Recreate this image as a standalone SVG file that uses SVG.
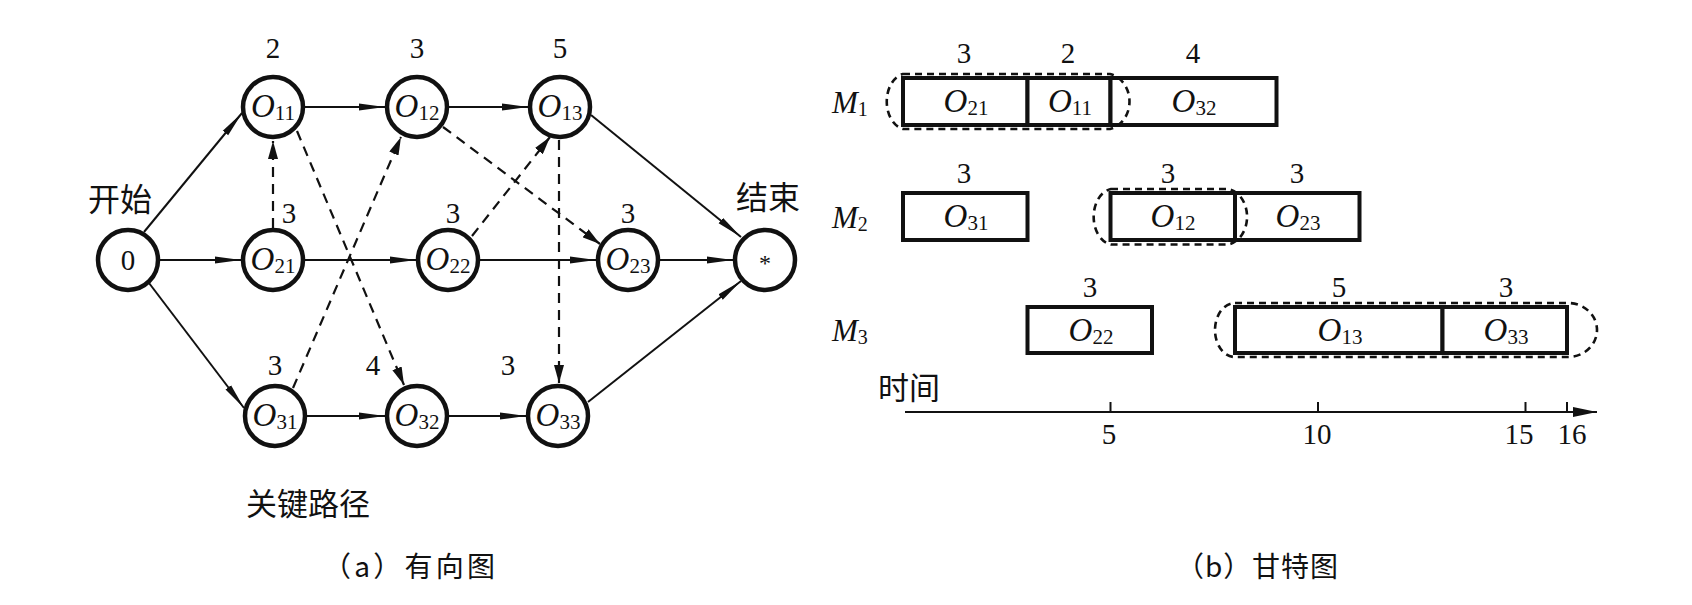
<svg xmlns="http://www.w3.org/2000/svg" width="1692" height="605" viewBox="0 0 1692 605">
<style>
.bg{fill:#fff}
.node circle{fill:#fff;stroke:#111;stroke-width:4.5}
.t{font-family:"Liberation Serif","Times New Roman",serif;fill:#111}
.it{font-style:italic;font-size:33px}
.sub{font-size:21px}
.num{font-family:"Liberation Serif","Times New Roman",serif;font-size:29px;fill:#111;text-anchor:middle}
.cjk{font-family:"Noto Sans CJK SC","Noto Sans",sans-serif;fill:#111}
.solid{stroke:#111;stroke-width:2;fill:none}
.dash{stroke:#111;stroke-width:2.2;fill:none;stroke-dasharray:10 7}
.bar rect{fill:#fff;stroke:#111;stroke-width:4}
.cap{fill:none;stroke:#111;stroke-width:2.6;stroke-dasharray:7 5}
.axis{stroke:#111;stroke-width:2;fill:none}
</style>
<defs>
<marker id="arr" viewBox="0 0 26 8" refX="26" refY="4" markerWidth="26" markerHeight="8" markerUnits="userSpaceOnUse" orient="auto"><path d="M0,0.5 L26,4 L0,7.5 z" fill="#111"/></marker>
<marker id="arrd" viewBox="0 0 18 10" refX="18" refY="5" markerWidth="18" markerHeight="10" markerUnits="userSpaceOnUse" orient="auto"><path d="M0,0 L18,5 L0,10 z" fill="#111"/></marker>
<marker id="arrx" viewBox="0 0 24 10" refX="24" refY="5" markerWidth="24" markerHeight="10" markerUnits="userSpaceOnUse" orient="auto"><path d="M0,0 L24,5 L0,10 z" fill="#111"/></marker>
</defs>
<rect class="bg" x="0" y="0" width="1692" height="605"/>

<!-- connectors of the directed graph -->
<g id="connectors">
<line class="solid" x1="144" y1="232" x2="242" y2="113" marker-end="url(#arr)"/>
<line class="solid" x1="160" y1="260" x2="241" y2="260" marker-end="url(#arr)"/>
<line class="solid" x1="149" y1="283" x2="244" y2="408" marker-end="url(#arr)"/>
<line class="solid" x1="305" y1="107" x2="385" y2="107" marker-end="url(#arr)"/>
<line class="solid" x1="449" y1="107" x2="528" y2="107" marker-end="url(#arr)"/>
<line class="solid" x1="305" y1="260" x2="416" y2="260" marker-end="url(#arr)"/>
<line class="solid" x1="480" y1="260" x2="596" y2="260" marker-end="url(#arr)"/>
<line class="solid" x1="660" y1="260" x2="733" y2="260" marker-end="url(#arr)"/>
<line class="solid" x1="591" y1="115" x2="741" y2="237" marker-end="url(#arr)"/>
<line class="solid" x1="307" y1="416" x2="385" y2="416" marker-end="url(#arr)"/>
<line class="solid" x1="449" y1="416" x2="526" y2="416" marker-end="url(#arr)"/>
<line class="solid" x1="588" y1="402" x2="741" y2="281" marker-end="url(#arr)"/>
<line class="dash" x1="273" y1="228" x2="273" y2="141" marker-end="url(#arrd)"/>
<line class="dash" x1="293" y1="388" x2="401" y2="137" marker-end="url(#arrd)"/>
<line class="dash" x1="297" y1="131" x2="404" y2="385" marker-end="url(#arrd)"/>
<line class="dash" x1="472" y1="236" x2="550" y2="137" marker-end="url(#arrd)"/>
<line class="dash" x1="443" y1="127" x2="600" y2="244" marker-end="url(#arrd)"/>
<line class="dash" x1="559" y1="140" x2="559" y2="383" marker-end="url(#arrd)"/>
</g>

<!-- nodes -->
<g id="n0" class="node"><circle cx="128" cy="260" r="30"/><text class="t" x="128" y="270" font-size="29" text-anchor="middle">0</text></g>
<g id="o11" class="node"><circle cx="273" cy="107" r="30"/><text class="t" x="273" y="117" text-anchor="middle"><tspan class="it">O</tspan><tspan class="sub" dy="3">11</tspan></text></g>
<g id="o12" class="node"><circle cx="417" cy="107" r="30"/><text class="t" x="417" y="117" text-anchor="middle"><tspan class="it">O</tspan><tspan class="sub" dy="3">12</tspan></text></g>
<g id="o13" class="node"><circle cx="560" cy="107" r="30"/><text class="t" x="560" y="117" text-anchor="middle"><tspan class="it">O</tspan><tspan class="sub" dy="3">13</tspan></text></g>
<g id="o21" class="node"><circle cx="273" cy="260" r="30"/><text class="t" x="273" y="270" text-anchor="middle"><tspan class="it">O</tspan><tspan class="sub" dy="3">21</tspan></text></g>
<g id="o22" class="node"><circle cx="448" cy="260" r="30"/><text class="t" x="448" y="270" text-anchor="middle"><tspan class="it">O</tspan><tspan class="sub" dy="3">22</tspan></text></g>
<g id="o23" class="node"><circle cx="628" cy="260" r="30"/><text class="t" x="628" y="270" text-anchor="middle"><tspan class="it">O</tspan><tspan class="sub" dy="3">23</tspan></text></g>
<g id="o31" class="node"><circle cx="275" cy="416" r="30"/><text class="t" x="275" y="426" text-anchor="middle"><tspan class="it">O</tspan><tspan class="sub" dy="3">31</tspan></text></g>
<g id="o32" class="node"><circle cx="417" cy="416" r="30"/><text class="t" x="417" y="426" text-anchor="middle"><tspan class="it">O</tspan><tspan class="sub" dy="3">32</tspan></text></g>
<g id="o33" class="node"><circle cx="558" cy="416" r="30"/><text class="t" x="558" y="426" text-anchor="middle"><tspan class="it">O</tspan><tspan class="sub" dy="3">33</tspan></text></g>
<g id="end" class="node"><circle cx="765" cy="260" r="30"/><text class="t" x="765" y="271" font-size="24" text-anchor="middle">*</text></g>

<!-- graph labels -->
<g id="graph-labels">
<text class="num" x="273" y="58">2</text>
<text class="num" x="417" y="58">3</text>
<text class="num" x="560" y="58">5</text>
<text class="num" x="289" y="223">3</text>
<text class="num" x="453" y="223">3</text>
<text class="num" x="628" y="223">3</text>
<text class="num" x="275" y="375">3</text>
<text class="num" x="373" y="375">4</text>
<text class="num" x="508" y="375">3</text>
<text class="cjk" x="120" y="211" font-size="32" text-anchor="middle">开始</text>
<text class="cjk" x="768" y="209" font-size="32" text-anchor="middle">结束</text>
<text class="cjk" x="308" y="515" font-size="31" text-anchor="middle">关键路径</text>
<text class="cjk" x="409" y="577" font-size="28" text-anchor="middle" textLength="172" lengthAdjust="spacing">（a）有向图</text>
</g>

<!-- Gantt chart -->
<g id="machine-labels">
<text class="t" x="832" y="113"><tspan font-style="italic" font-size="31">M</tspan><tspan font-size="20" dy="3">1</tspan></text>
<text class="t" x="832" y="228"><tspan font-style="italic" font-size="31">M</tspan><tspan font-size="20" dy="3">2</tspan></text>
<text class="t" x="832" y="341"><tspan font-style="italic" font-size="31">M</tspan><tspan font-size="20" dy="3">3</tspan></text>
</g>

<g id="m1-bars" class="bar">
<rect x="903" y="78" width="124.5" height="47"/>
<rect x="1027.5" y="78" width="83" height="47"/>
<rect x="1110.5" y="78" width="166" height="47"/>
<text class="t" x="966" y="112" text-anchor="middle"><tspan class="it">O</tspan><tspan class="sub" dy="3">21</tspan></text>
<text class="t" x="1070" y="112" text-anchor="middle"><tspan class="it">O</tspan><tspan class="sub" dy="3">11</tspan></text>
<text class="t" x="1194" y="112" text-anchor="middle"><tspan class="it">O</tspan><tspan class="sub" dy="3">32</tspan></text>
<text class="num" x="964" y="63">3</text>
<text class="num" x="1068" y="63">2</text>
<text class="num" x="1193" y="63">4</text>
</g>

<g id="m2-bars" class="bar">
<rect x="903" y="193" width="124.5" height="47"/>
<rect x="1110.5" y="193" width="124.5" height="47"/>
<rect x="1235" y="193" width="124.5" height="47"/>
<text class="t" x="966" y="227" text-anchor="middle"><tspan class="it">O</tspan><tspan class="sub" dy="3">31</tspan></text>
<text class="t" x="1173" y="227" text-anchor="middle"><tspan class="it">O</tspan><tspan class="sub" dy="3">12</tspan></text>
<text class="t" x="1298" y="227" text-anchor="middle"><tspan class="it">O</tspan><tspan class="sub" dy="3">23</tspan></text>
<text class="num" x="964" y="183">3</text>
<text class="num" x="1168" y="183">3</text>
<text class="num" x="1297" y="183">3</text>
</g>

<g id="m3-bars" class="bar">
<rect x="1027.5" y="307" width="124.5" height="46"/>
<rect x="1235" y="307" width="207.5" height="46"/>
<rect x="1442.5" y="307" width="124.5" height="46"/>
<text class="t" x="1091" y="341" text-anchor="middle"><tspan class="it">O</tspan><tspan class="sub" dy="3">22</tspan></text>
<text class="t" x="1340" y="341" text-anchor="middle"><tspan class="it">O</tspan><tspan class="sub" dy="3">13</tspan></text>
<text class="t" x="1506" y="341" text-anchor="middle"><tspan class="it">O</tspan><tspan class="sub" dy="3">33</tspan></text>
<text class="num" x="1090" y="297">3</text>
<text class="num" x="1339" y="297">5</text>
<text class="num" x="1506" y="297">3</text>
</g>

<g id="critical-path">
<path class="cap" d="M903,74 L1110,74 A24,28 0 0 1 1110,129 L903,129 A20,28 0 0 1 903,74 Z"/>
<path class="cap" d="M1111,189 L1228,189 A22,28 0 0 1 1228,244.5 L1111,244.5 A20,28 0 0 1 1111,189 Z"/>
<path class="cap" d="M1235,303 L1568,303 A29,27 0 0 1 1568,357 L1235,357 A20,27 0 0 1 1235,303 Z"/>
</g>

<g id="time-axis">
<line class="axis" x1="905" y1="412" x2="1597" y2="412" marker-end="url(#arrx)"/>
<line class="axis" x1="1110.5" y1="402" x2="1110.5" y2="412"/>
<line class="axis" x1="1318" y1="402" x2="1318" y2="412"/>
<line class="axis" x1="1525.5" y1="402" x2="1525.5" y2="412"/>
<line class="axis" x1="1567" y1="402" x2="1567" y2="412"/>
<text class="num" x="1109" y="444">5</text>
<text class="num" x="1317" y="444">10</text>
<text class="num" x="1519" y="444">15</text>
<text class="num" x="1572" y="444">16</text>
<text class="cjk" x="878" y="399" font-size="31">时间</text>
</g>
<text class="cjk" x="1257" y="577" font-size="28" text-anchor="middle" textLength="162" lengthAdjust="spacing">（b）甘特图</text>
</svg>
